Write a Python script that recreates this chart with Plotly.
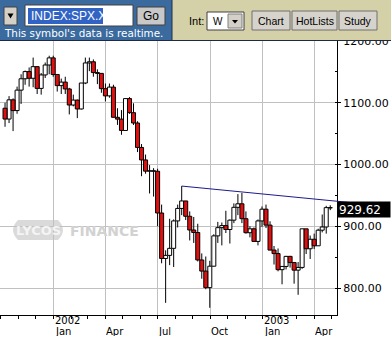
import plotly.graph_objects as go
import pandas as pd

# ---------------- data (weekly S&P 500) ----------------
week_dates = pd.date_range("2001-10-08 12:00", periods=82, freq="7D")

opens = [1091.0, 1073.5, 1104.6, 1087.2, 1120.3, 1138.7, 1150.3, 1139.5, 1158.3, 1123.1,
         1144.9, 1161.0, 1172.5, 1145.6, 1127.6, 1133.3, 1122.2, 1096.2, 1104.2, 1089.8,
         1131.8, 1164.3, 1166.2, 1148.7, 1147.4, 1122.7, 1111.0, 1125.2, 1076.3, 1073.4,
         1055.0, 1106.6, 1083.8, 1067.1, 1027.5, 1007.3, 989.1, 989.8, 989.0, 921.4,
         847.8, 852.8, 864.2, 908.6, 928.8, 940.9, 916.1, 893.9, 889.8, 845.4,
         827.4, 800.6, 835.3, 884.4, 897.7, 901.0, 894.7, 909.8, 930.6, 936.3,
         912.2, 889.5, 895.8, 875.4, 908.6, 927.6, 901.8, 861.4, 855.7, 829.7,
         834.9, 851.2, 841.2, 828.9, 833.3, 895.8, 863.5, 878.9, 868.3, 893.6,
         898.8, 930.1]
highs = [1100, 1110.6, 1107, 1126, 1146, 1152, 1157, 1173, 1159, 1148,
         1165, 1176, 1176, 1146, 1139, 1142, 1124, 1113, 1105, 1132,
         1173, 1173, 1170, 1154, 1148, 1131, 1131, 1129, 1091, 1088,
         1107, 1109, 1099, 1070, 1033, 1016, 999, 994, 993, 935,
         861, 912, 911, 935, 965, 941, 924, 915, 904, 856,
         851, 844, 887, 907, 906, 925, 911, 937, 952, 954,
         924, 900, 898, 911, 932, 935, 908, 868, 864, 835,
         852, 852, 842, 842, 896, 896, 885, 888, 896, 919,
         933, 934]
lows = [1061, 1067, 1054, 1082, 1098, 1129, 1126, 1125, 1114, 1113,
        1140, 1146, 1142, 1118, 1114, 1114, 1081, 1094, 1075, 1089,
        1130, 1151, 1142, 1130, 1116, 1102, 1108, 1076, 1064, 1048,
        1055, 1082, 1064, 1020, 981, 985, 953, 948, 900, 840,
        776, 837, 834, 898, 918, 910, 877, 873, 843, 815,
        798, 768, 835, 873, 869, 889, 872, 905, 918, 905,
        888, 882, 875, 869, 899, 897, 861, 838, 827, 806,
        830, 833, 807, 789, 831, 855, 847, 863, 868, 890,
        888, 926]
closes = [1073.5, 1104.6, 1087.2, 1120.3, 1138.7, 1150.3, 1139.5, 1158.3, 1123.1, 1144.9,
          1161.0, 1172.5, 1145.6, 1127.6, 1133.3, 1122.2, 1096.2, 1104.2, 1089.8, 1131.8,
          1164.3, 1166.2, 1148.7, 1147.4, 1122.7, 1111.0, 1125.2, 1076.3, 1073.4, 1055.0,
          1106.6, 1083.8, 1067.1, 1027.5, 1007.3, 989.1, 989.8, 989.0, 921.4, 847.8,
          852.8, 864.2, 908.6, 928.8, 940.9, 916.1, 893.9, 889.8, 845.4, 827.4,
          800.6, 835.3, 884.4, 897.7, 901.0, 894.7, 909.8, 930.6, 936.3, 912.2,
          889.5, 895.8, 875.4, 908.6, 927.6, 901.8, 861.4, 855.7, 829.7, 834.9,
          851.2, 841.2, 828.9, 833.3, 895.8, 863.5, 878.9, 868.3, 893.6, 898.8,
          930.1, 929.62]

last_price = 929.62
trend_dates = ["2002-08-12 12:00", "2003-06-10 18:00"]
trend_values = [965.0, 937.6]

quarter_dates = ["2002-01-01", "2002-04-01", "2002-07-01", "2002-10-01", "2003-01-01", "2003-04-01"]
quarter_labels = ["Jan", "Apr", "Jul", "Oct", "Jan", "Apr"]
year_dates = ["2002-01-01", "2003-01-01"]
year_labels = ["2002", "2003"]

# ---------------- geometry ----------------
W, H = 391, 337
def X(p): return p / W
def Y(p): return 1 - p / H

x_start = pd.Timestamp("2001-09-29 17:00")
x_end = pd.Timestamp("2003-05-10 07:00")
x2_end = x_start + (x_end - x_start) * (W / 337.0)
y_range = [756.3, 1266.2]

fig = go.Figure()

# wicks (drawn as two segments so bodies stay clean)
wx, wy = [], []
for d, o, h, l, c in zip(week_dates, opens, highs, lows, closes):
    top, bot = max(o, c), min(o, c)
    wx += [d, d, None, d, d, None]
    wy += [h, top, None, bot, l, None]
fig.add_trace(go.Scatter(x=wx, y=wy, mode="lines", line=dict(color="black", width=1),
                         hoverinfo="skip", showlegend=False))

week_ms = 7 * 86400000
for is_up, fill in [(True, "white"), (False, "#E01010")]:
    xs, bs, hs = [], [], []
    for d, o, c in zip(week_dates, opens, closes):
        if (c >= o) == is_up:
            xs.append(d)
            bs.append(min(o, c))
            hs.append(abs(c - o))
    fig.add_trace(go.Bar(x=xs, base=bs, y=hs, width=week_ms,
                         marker=dict(color=fill, line=dict(color="black", width=1)),
                         showlegend=False, hoverinfo="skip"))

# trend line on an invisible full-width overlay axis so it can run past the price axis
fig.add_trace(go.Scatter(x=trend_dates, y=trend_values, mode="lines",
                         line=dict(color="#1C1C8C", width=1), xaxis="x2", yaxis="y2",
                         showlegend=False, hoverinfo="skip"))

shapes = []
def rect(x0, y0, x1, y1, fill, line=None, lw=1, layer="above"):
    shapes.append(dict(type="rect", xref="paper", yref="paper",
                       x0=X(x0), x1=X(x1), y0=Y(y1), y1=Y(y0), fillcolor=fill,
                       line=dict(color=line if line else fill, width=lw if line else 0),
                       layer=layer))
def path(pts, fill, layer="above"):
    d = "M " + " L ".join(f"{X(a):.5f},{Y(b):.5f}" for a, b in pts) + " Z"
    shapes.append(dict(type="path", xref="paper", yref="paper", path=d,
                       fillcolor=fill, line=dict(width=0), layer=layer))

# watermark pill
pill = "M {:.5f},{:.5f} L {:.5f},{:.5f} Q {:.5f},{:.5f} {:.5f},{:.5f} L {:.5f},{:.5f} Q {:.5f},{:.5f} {:.5f},{:.5f} Z".format(
    X(18), Y(220), X(58), Y(220), X(68), Y(230), X(58), Y(240), X(18), Y(240), X(8), Y(230), X(18), Y(220))
shapes.append(dict(type="path", xref="paper", yref="paper", path=pill,
                   fillcolor="#DADADA", line=dict(width=0), layer="between"))

# toolbar
rect(0, 0, 172, 41, "#3A6A9E")
rect(172, 0, 391, 41, "#D4D0A8")
shapes.append(dict(type="line", xref="paper", yref="paper", x0=0, x1=1, y0=Y(40.5), y1=Y(40.5),
                   line=dict(color="#1E2A44", width=1), layer="above"))
shapes.append(dict(type="line", xref="paper", yref="paper", x0=X(172), x1=X(172), y0=Y(0), y1=Y(41),
                   line=dict(color="#20304A", width=1), layer="above"))
rect(4, 7, 17, 25, "#D4D0C8", "#404040")
path([(7.5, 13.5), (13.5, 13.5), (10.5, 18.5)], "black")
rect(25, 5, 133, 26, "white", "#404040")
rect(28, 8, 103, 24, "#3163C5")
rect(137, 7, 165, 25, "#C8C8C8", "#404040")
rect(207, 12, 244, 30, "white", "#404040")
rect(228, 14, 242, 28, "#D4D0C8", "#808080")
path([(232, 20), (238, 20), (235, 23.5)], "black")
for bx0, bx1 in [(252, 290), (292, 337), (339, 377)]:
    rect(bx0, 11, bx1, 30, "#D6D3CC", "#707070")

ann = []
def text(x, y, s, size=11, color="black", family="DejaVu Sans", xanchor="left", bold=False):
    ann.append(dict(xref="paper", yref="paper", x=X(x), y=Y(y), text=f"<b>{s}</b>" if bold else s,
                    showarrow=False, xanchor=xanchor, yanchor="middle",
                    font=dict(size=size, color=color, family=family)))

text(29, 16, "INDEX:SPX.X", 12, "white", "Liberation Sans")
text(151, 16.5, "Go", 12, "black", "Liberation Sans", "center")
text(2, 33, "This symbol's data is realtime.", 10.4, "white")
text(187, 21, "Int:", 11, "black", "Liberation Sans")
text(211, 21.5, "W", 10, "black", "Liberation Sans")
for (bx0, bx1), lab in zip([(252, 290), (292, 337), (339, 377)], ["Chart", "HotLists", "Study"]):
    text((bx0 + bx1) / 2, 21, lab, 10.5, "black", "Liberation Sans", "center")

# watermark text
text(38, 230.5, "LYCOS", 13, "#F4F4F4", "DejaVu Sans", "center", bold=True)
text(68, 231, "FINANCE", 14, "#D2D2D2", "DejaVu Sans", "left", bold=True)

# x labels (left-aligned at the gridlines)
for d, lab in zip(quarter_dates, quarter_labels):
    ann.append(dict(xref="x", yref="paper", x=d, y=Y(331), text=lab, showarrow=False,
                    xanchor="left", yanchor="middle", height=9, borderpad=0,
                    font=dict(size=10, color="black", family="DejaVu Sans")))
for d, lab in zip(year_dates, year_labels):
    ann.append(dict(xref="x", yref="paper", x=d, y=Y(320.5), text=lab, showarrow=False,
                    xanchor="left", yanchor="middle", height=9, borderpad=0,
                    font=dict(size=10, color="black", family="DejaVu Sans")))

# last price box
ann.append(dict(xref="paper", yref="y", x=X(337), y=last_price, text=f"{last_price:.2f}",
                showarrow=False, xanchor="left", yanchor="middle", yshift=-2,
                bgcolor="black", width=50, height=13, align="left", borderpad=1,
                font=dict(size=12, color="white", family="DejaVu Sans")))

fig.update_layout(
    width=W, height=H, margin=dict(l=0, r=0, t=0, b=0),
    paper_bgcolor="white", plot_bgcolor="rgba(0,0,0,0)",
    barmode="overlay", showlegend=False,
    font=dict(family="DejaVu Sans", size=11, color="black"),
    xaxis=dict(type="date", domain=[0, 337 / W], range=[x_start, x_end], anchor="y",
               showgrid=True, gridcolor="#C0C0C0", gridwidth=1,
               dtick="M3", tick0="2002-01-01", ticks="outside", ticklen=3, tickcolor="black",
               showticklabels=False, showline=True, linecolor="black", linewidth=1,
               minor=dict(dtick="M1", tick0="2002-01-01", ticks="outside", ticklen=3,
                          tickcolor="black", showgrid=False),
               zeroline=False, fixedrange=True),
    yaxis=dict(domain=[(H - 315) / H, 1], range=y_range, side="right", anchor="x",
               showgrid=True, gridcolor="#C0C0C0", gridwidth=1,
               dtick=100, tick0=800, tickformat=".2f", ticks="outside", ticklen=3,
               tickcolor="black", showline=True, linecolor="black", linewidth=1,
               minor=dict(dtick=50, ticks="inside", ticklen=2, tickcolor="black", showgrid=False),
               tickfont=dict(size=11, family="DejaVu Sans", color="black"),
               zeroline=False, fixedrange=True),
    xaxis2=dict(type="date", domain=[0, 1], range=[x_start, x2_end], anchor="y2",
                visible=False, showgrid=False, fixedrange=True),
    yaxis2=dict(range=y_range, overlaying="y", anchor="x2", visible=False,
                showgrid=False, fixedrange=True),
    shapes=shapes, annotations=ann,
)

fig.write_html("out.html")
